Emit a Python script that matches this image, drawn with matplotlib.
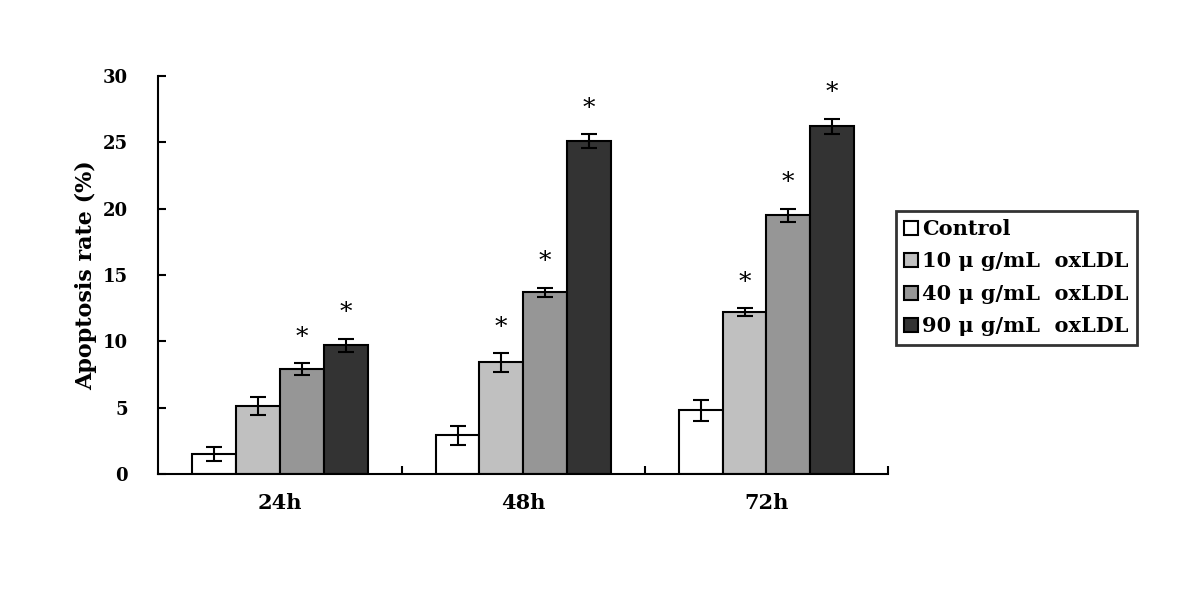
import numpy as np
import matplotlib.pyplot as plt
import matplotlib.ticker as ticker

times = ['24h', '48h', '72h']
labels = ['Control', '10 μ g/mL  oxLDL', '40 μ g/mL  oxLDL', '90 μ g/mL  oxLDL']
colors = ['#ffffff', '#c0c0c0', '#969696', '#333333']

control = [1.5, 2.9, 4.8]
ox10 = [5.1, 8.4, 12.2]
ox40 = [7.9, 13.7, 19.5]
ox90 = [9.7, 25.1, 26.2]

err_control = [0.5, 0.7, 0.8]
err_ox10 = [0.7, 0.7, 0.3]
err_ox40 = [0.45, 0.35, 0.5]
err_ox90 = [0.5, 0.5, 0.6]

# which bars get a star (control never)
stars = [[False, False, False], [False, True, True], [True, True, True], [True, True, True]]

values = [control, ox10, ox40, ox90]
errors = [err_control, err_ox10, err_ox40, err_ox90]

plt.rcParams['font.family'] = ['DejaVu Serif']
plt.rcParams['font.weight'] = 'bold'

fig = plt.figure(figsize=(12, 6.09), dpi=100)
ax = fig.add_axes([0.132, 0.222, 0.608, 0.653])

x = np.arange(len(times))
w = 0.18
for i in range(4):
    pos = x + (i - 1.5) * w
    ax.bar(pos, values[i], w, color=colors[i], edgecolor='black', linewidth=1.5,
           yerr=errors[i], capsize=6, error_kw=dict(elinewidth=1.5, capthick=1.5, ecolor='black'),
           label=labels[i], zorder=2)
    for j in range(3):
        if stars[i][j]:
            ax.text(pos[j], values[i][j] + errors[i][j] + 1.1, '*', ha='center', va='bottom',
                    fontsize=18, fontweight='normal')

ax.set_xlim(-0.5, 2.5)
ax.set_ylim(0, 30)
ax.set_xticks(x)
ax.set_xticklabels(times, fontsize=15, fontweight='bold')
ax.xaxis.set_minor_locator(ticker.FixedLocator([0.5, 1.5, 2.5]))
ax.tick_params(axis='x', which='major', length=0, pad=14)
ax.tick_params(axis='x', which='minor', direction='in', length=6, width=1.5)
ax.set_yticks(range(0, 31, 5))
ax.tick_params(axis='y', direction='in', length=6, width=1.5, labelsize=13, pad=22)
for lab in ax.get_yticklabels():
    lab.set_fontweight('bold')
ax.set_ylabel('Apoptosis rate (%)', fontsize=16, fontweight='bold', labelpad=4)

ax.spines['top'].set_visible(False)
ax.spines['right'].set_visible(False)
ax.spines['left'].set_linewidth(1.5)
ax.spines['bottom'].set_linewidth(1.5)

leg = ax.legend(loc='center left', bbox_to_anchor=(1.011, 0.493), frameon=True, fancybox=False,
                edgecolor='black', fontsize=15, handlelength=0.65, handleheight=0.65,
                handletextpad=0.2, borderpad=0.4, labelspacing=0.6, borderaxespad=0)
leg.get_frame().set_linewidth(2)
for t in leg.get_texts():
    t.set_fontweight('bold')

fig.savefig('out.png', dpi=100)
